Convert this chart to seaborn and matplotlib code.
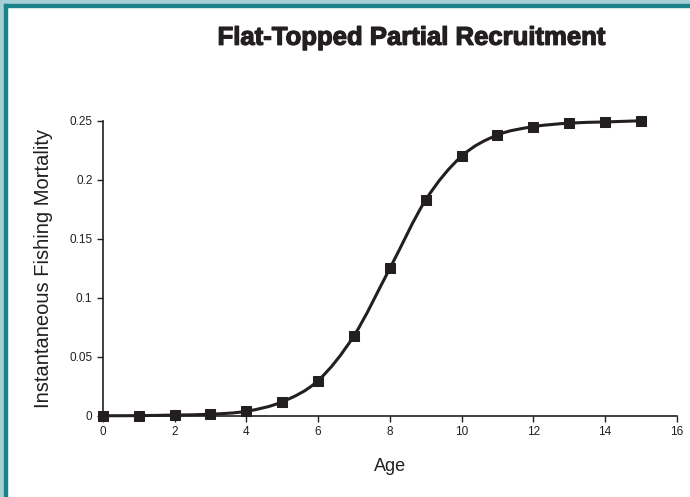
import matplotlib
matplotlib.use("Agg")
import matplotlib.pyplot as plt
import matplotlib.patches as mpatches
import matplotlib.patheffects as pe
from matplotlib.path import Path
import seaborn as sns
import pandas as pd

# values
ages = [0, 1, 2, 3, 4, 5, 6, 7, 8, 9, 10, 11, 12, 13, 14, 15]
mortality = [0.0002, 0.0003, 0.0008, 0.0015, 0.004, 0.012, 0.030, 0.068,
             0.125, 0.183, 0.220, 0.238, 0.245, 0.248, 0.249, 0.250]
x_ticks = [0, 2, 4, 6, 8, 10, 12, 14, 16]
y_ticks = [0, 0.05, 0.1, 0.15, 0.2, 0.25]
y_tick_labels = ["0", "0.05", "0.1", "0.15", "0.2", "0.25"]

df = pd.DataFrame({"Age": ages, "F": mortality})
ink = "#231f20"

sns.set_style("ticks")
plt.rcParams["font.family"] = ["Liberation Sans", "DejaVu Sans"]

fig = plt.figure(figsize=(6.9, 4.97), dpi=100)
fig.patch.set_facecolor("white")

# frame along the top and left edges
fig.patches.append(mpatches.Rectangle((0, 0), 4 / 690, 1, transform=fig.transFigure,
                                      color="#a6cfd6", zorder=0))
fig.patches.append(mpatches.Rectangle((0, 1 - 4 / 497), 1, 4 / 497, transform=fig.transFigure,
                                      color="#a6cfd6", zorder=0))
fig.patches.append(mpatches.Rectangle((4 / 690, 0), 3 / 690, 1 - 4 / 497, transform=fig.transFigure,
                                      color="#19828a", zorder=0))
fig.patches.append(mpatches.Rectangle((4 / 690, 1 - 7 / 497), 1, 3 / 497, transform=fig.transFigure,
                                      color="#19828a", zorder=0))

ax = fig.add_axes([0.149, 0.163, 0.832, 0.594])

# smoothed connecting line (Excel-style): Catmull-Rom segments drawn as Bezier curves
verts = [(ages[0], mortality[0])]
codes = [Path.MOVETO]
n = len(ages)
for i in range(n - 1):
    p0 = (ages[max(i - 1, 0)], mortality[max(i - 1, 0)])
    p1 = (ages[i], mortality[i])
    p2 = (ages[i + 1], mortality[i + 1])
    p3 = (ages[min(i + 2, n - 1)], mortality[min(i + 2, n - 1)])
    c1 = (p1[0] + (p2[0] - p0[0]) / 6, p1[1] + (p2[1] - p0[1]) / 6)
    c2 = (p2[0] - (p3[0] - p1[0]) / 6, p2[1] - (p3[1] - p1[1]) / 6)
    verts += [c1, c2, p2]
    codes += [Path.CURVE4] * 3
ax.add_patch(mpatches.PathPatch(Path(verts, codes), facecolor="none", edgecolor=ink,
                                linewidth=2.2, clip_on=False, zorder=2))

sns.lineplot(data=df, x="Age", y="F", ax=ax, color=ink, linestyle="none",
             marker="s", markersize=6.5, markeredgecolor=ink, clip_on=False, zorder=3)

ax.set_xlim(0, 16)
ax.set_ylim(0, 0.25)
ax.set_xticks(x_ticks)
ax.set_yticks(y_ticks)
ax.set_yticklabels(y_tick_labels)
ax.tick_params(labelsize=8.5, colors=ink, length=4, width=1)
sns.despine(ax=ax)
for side in ["left", "bottom"]:
    ax.spines[side].set_color(ink)
    ax.spines[side].set_linewidth(1.2)

ax.set_xlabel("Age", fontsize=13, color=ink, labelpad=14)
ax.set_ylabel("Instantaneous Fishing Mortality", fontsize=14.5, color=ink, labelpad=12)

fig.text(0.597, 0.924, "Flat-Topped Partial Recruitment", ha="center", va="center",
         fontsize=18.5, fontweight="heavy", color=ink,
         path_effects=[pe.Stroke(linewidth=0.9, foreground=ink), pe.Normal()])

fig.savefig("out.png", dpi=100, facecolor="white")
